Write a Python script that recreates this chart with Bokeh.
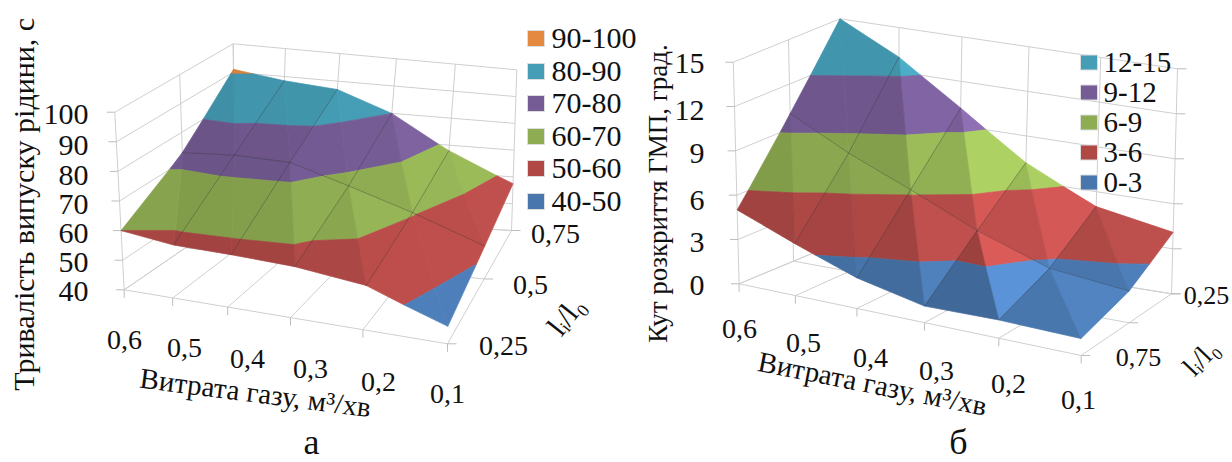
import numpy as np
from bokeh.plotting import figure
from bokeh.core.properties import value
from bokeh.embed import file_html
from bokeh.resources import INLINE

# ---------- data ----------
gas_labels = ["0,6", "0,5", "0,4", "0,3", "0,2", "0,1"]

a_depth_labels = ["0,25", "0,5", "0,75"]
a_z_ticks = [40, 50, 60, 70, 80, 90, 100]
a_front = [60, 57.8, 57.5, 56.8, 54.3, 45.5]   # l=0.25
a_mid = [73, 74, 73.5, 67.5, 60.5, 51.5]       # l=0.5
a_back = [91, 88.5, 87, 80, 68, 57.5]          # l=0.75
a_legend = ["90-100", "80-90", "70-80", "60-70", "50-60", "40-50"]

b_depth_labels = ["0,75", "0,25"]
b_z_ticks = [0, 3, 6, 9, 12, 15]
b_front = [5, 3.5, 2.05, 1.1, 1.2, 1.1]        # l=0.75
b_mid = [10, 8, 6.25, 4.3, 2.65, 2.1]          # l=0.5
b_back = [15, 13, 10.2, 7.2, 5, 4.1]           # l=0.25
b_legend = ["12-15", "9-12", "6-9", "3-6", "0-3"]

band_colors = {"orange": (0xF7, 0x96, 0x46), "teal": (0x4B, 0xAC, 0xC6), "purple": (0x80, 0x64, 0xA2),
               "green": (0x9B, 0xBB, 0x59), "red": (0xC0, 0x50, 0x4D), "blue": (0x4F, 0x81, 0xBD)}
a_band_colors = ["orange", "teal", "purple", "green", "red", "blue"]
b_band_colors = ["teal", "purple", "green", "red", "blue"]

# page-pixel projection frames (FL, FR, BR, BL)
a_floor = [(123.7, 289.3), (447, 343.3), (511, 230), (234.7, 213.3)]
a_top = [(114.3, 111.7), (450.6, 153), (516.3, 69.3), (232.7, 43.3)]
b_floor = [(738.6, 283.3), (1080.7, 355), (1171, 293.3), (842.6, 240)]
b_top = [(732.8, 61.7), (1078, 124.3), (1177, 68.3), (839.5, 18.3)]

FONT = "Liberation Serif"
GRID = "#cfcfcf"
TICK = "#bdbdbd"


def homography(c):
    src = [(0, 0), (1, 0), (1, 1), (0, 1)]
    A, b = [], []
    for (u, v), (x, y) in zip(src, c):
        A.append([u, v, 1, 0, 0, 0, -u * x, -v * x]); b.append(x)
        A.append([0, 0, 0, u, v, 1, -u * y, -v * y]); b.append(y)
    h = np.linalg.solve(np.array(A, float), np.array(b, float))
    return np.append(h, 1).reshape(3, 3)


def tone(rgb, f):
    return "#%02x%02x%02x" % tuple(int(min(255, max(0, c * f))) for c in rgb)


p = figure(width=1232, height=462, x_range=(0, 1232), y_range=(462, 0), toolbar_location=None,
           output_backend="svg", min_border=0, outline_line_color=None, background_fill_color="white")
p.xaxis.visible = False
p.yaxis.visible = False
p.grid.visible = False


def text(x, y, s, size, align="center", base="middle", angle=0, color="#111111"):
    p.text([x], [y], text=[s], text_font=value(FONT), text_font_size=f"{size}px", text_align=align,
           text_baseline=base, angle=angle, text_color=color)


def chart(floor, top, ticks, rows, band_names, shade, right_ticks, lx=1.5):
    Hf, Ht = homography(floor), homography(top)
    zmin, zmax = ticks[0], ticks[-1]
    nx, ny = len(rows[0]), len(rows)

    def proj(u, v, z):
        w = (z - zmin) / (zmax - zmin)
        pts = []
        for H in (Hf, Ht):
            q = H @ np.array([u, v, 1.0])
            pts.append(q[:2] / q[2])
        r = pts[0] * (1 - w) + pts[1] * w
        return float(r[0]), float(r[1])

    # walls and floor
    xs, ys = [], []

    def seg(a, b):
        P, Q = proj(*a), proj(*b)
        xs.append([P[0], Q[0]]); ys.append([P[1], Q[1]])
    for z in ticks:
        seg((0, 0, z), (0, 1, z)); seg((0, 1, z), (1, 1, z))
    for i in range(nx):
        u = i / (nx - 1)
        seg((u, 1, zmin), (u, 1, zmax)); seg((u, 0, zmin), (u, 1, zmin))
    for j in range(ny):
        v = j / (ny - 1)
        seg((0, v, zmin), (0, v, zmax)); seg((0, v, zmin), (1, v, zmin))
    p.multi_line(xs, ys, line_color=GRID, line_width=1)

    # ticks
    xs, ys = [], []
    for z in ticks:
        P = proj(0, 0, z); xs.append([P[0] - 8, P[0]]); ys.append([P[1], P[1]])
        if right_ticks:
            Q = proj(1, 1, z); xs.append([Q[0], Q[0] + 9]); ys.append([Q[1], Q[1]])
    for i in range(nx):
        P = proj(i / (nx - 1), 0, zmin); xs.append([P[0], P[0]]); ys.append([P[1], P[1] + 8])
    for j in range(ny):
        P = proj(1, j / (ny - 1), zmin); xs.append([P[0], P[0] + 9]); ys.append([P[1], P[1]])
    p.multi_line(xs, ys, line_color=TICK, line_width=1)

    # surface triangles, cut at the colour-band limits
    nodes = lambda i, j: (i / (nx - 1), j / (ny - 1), rows[j][i])
    tris = []
    for j in range(ny - 2, -1, -1):
        for i in range(nx - 1):
            tris.append((nodes(i, j + 1), nodes(i + 1, j + 1), nodes(i + 1, j)))
            tris.append((nodes(i, j + 1), nodes(i + 1, j), nodes(i, j)))

    def facing(t):
        world = [np.array([q[0] * lx, q[1], (q[2] - zmin) / (zmax - zmin)]) for q in t]
        n = np.cross(world[1] - world[0], world[2] - world[0])
        n = n / np.linalg.norm(n)
        if n[2] < 0:
            n = -n
        L = np.array([0.65, 0.45, 0.6])
        return float(n @ (L / np.linalg.norm(L)))
    d = [facing(t) for t in tris]
    lo, hi = min(d), max(d)

    def clip(poly, level, keep_above):
        out = []
        for k in range(len(poly)):
            A, B = np.array(poly[k]), np.array(poly[(k + 1) % len(poly)])
            ina = A[2] >= level if keep_above else A[2] <= level
            inb = B[2] >= level if keep_above else B[2] <= level
            if ina:
                out.append(tuple(A))
            if ina != inb:
                out.append(tuple(A + (B - A) * (level - A[2]) / (B[2] - A[2])))
        return out

    levels = ticks[::-1]
    fx, fy, fc = [], [], []
    for t, dd in zip(tris, d):
        f = shade[0] + (shade[1] - shade[0]) * ((dd - lo) / (hi - lo)) ** 1.5
        for k, name in enumerate(band_names):
            poly = clip(clip(list(t), levels[k + 1], True), levels[k], False)
            if len(poly) >= 3:
                pts = [proj(*q) for q in poly]
                fx.append([q[0] for q in pts]); fy.append([q[1] for q in pts])
                fc.append(tone(band_colors[name], f))
    p.patches(fx, fy, fill_color=fc, line_color=fc, line_width=0.7)

    # wire lines on the surface
    xs, ys = [], []
    for j in range(1, ny - 1):
        pts = [proj(*nodes(i, j)) for i in range(nx)]
        xs.append([q[0] for q in pts]); ys.append([q[1] for q in pts])
    for i in range(1, nx - 1):
        pts = [proj(*nodes(i, j)) for j in range(ny)]
        xs.append([q[0] for q in pts]); ys.append([q[1] for q in pts])
    p.multi_line(xs, ys, line_color="#2a2a2a", line_alpha=0.35, line_width=1)


chart(a_floor, a_top, a_z_ticks, [a_front, a_mid, a_back], a_band_colors, (0.84, 1.0), False)
chart(b_floor, b_top, b_z_ticks, [b_front, b_mid, b_back], b_band_colors, (0.82, 1.14), True)

# ---------- texts and legends (a) ----------
for s, y in zip(a_z_ticks[::-1], [114, 145, 175, 204, 233, 262, 291]):
    text(88, y, str(s), 30, "right")
for s, x, y in zip(gas_labels, [124, 184, 247, 310, 378, 447], [339, 347, 358, 368, 381, 393]):
    text(x, y, s, 28)
for s, x, y in zip(a_depth_labels, [503, 530, 555], [345, 284, 233]):
    text(x, y, s, 28)
text(565, 315, "lᵢ/l₀", 30, angle=0.9)
text(255, 392, "Витрата газу, м³/хв", 29, angle=-0.128)
text(23, 200, "Тривалість випуску  рідини, с", 30, angle=np.pi / 2)
text(311, 441, "а", 36)
for name, s, yc in zip(a_band_colors, a_legend, [38, 71, 103, 136, 168, 201]):
    p.quad(left=[527], right=[544], top=[yc - 8], bottom=[yc + 8], fill_color=tone(band_colors[name], 0.92), line_color="#dddddd")
    text(551, yc, s, 30, "left")

# ---------- texts and legends (b) ----------
for s, y in zip(b_z_ticks[::-1], [63, 110, 153, 200, 242, 285]):
    text(704, y, str(s), 30, "right")
for s, x, y in zip(gas_labels, [739, 803, 870, 936, 1008, 1078], [328, 342, 357, 370, 383, 399]):
    text(x, y, s, 28)
for s, x, y in zip(b_depth_labels, [1138, 1206], [357, 295]):
    text(x, y, s, 26)
text(1200, 357, "lᵢ/l₀", 28, angle=0.8)
text(872, 383, "Витрата газу, м³/хв", 29, angle=-0.195)
text(657, 193, "Кут розкриття ГМП, град.", 27, angle=np.pi / 2)
text(958, 441, "б", 36)
for name, s, yc in zip(b_band_colors, b_legend, [62, 92, 122, 152, 182]):
    p.quad(left=[1080], right=[1097], top=[yc - 7.5], bottom=[yc + 7.5], fill_color=tone(band_colors[name], 0.92), line_color="#dddddd")
    text(1103, yc, s, 29, "left")

open("out.html", "w").write(file_html(p, INLINE))
